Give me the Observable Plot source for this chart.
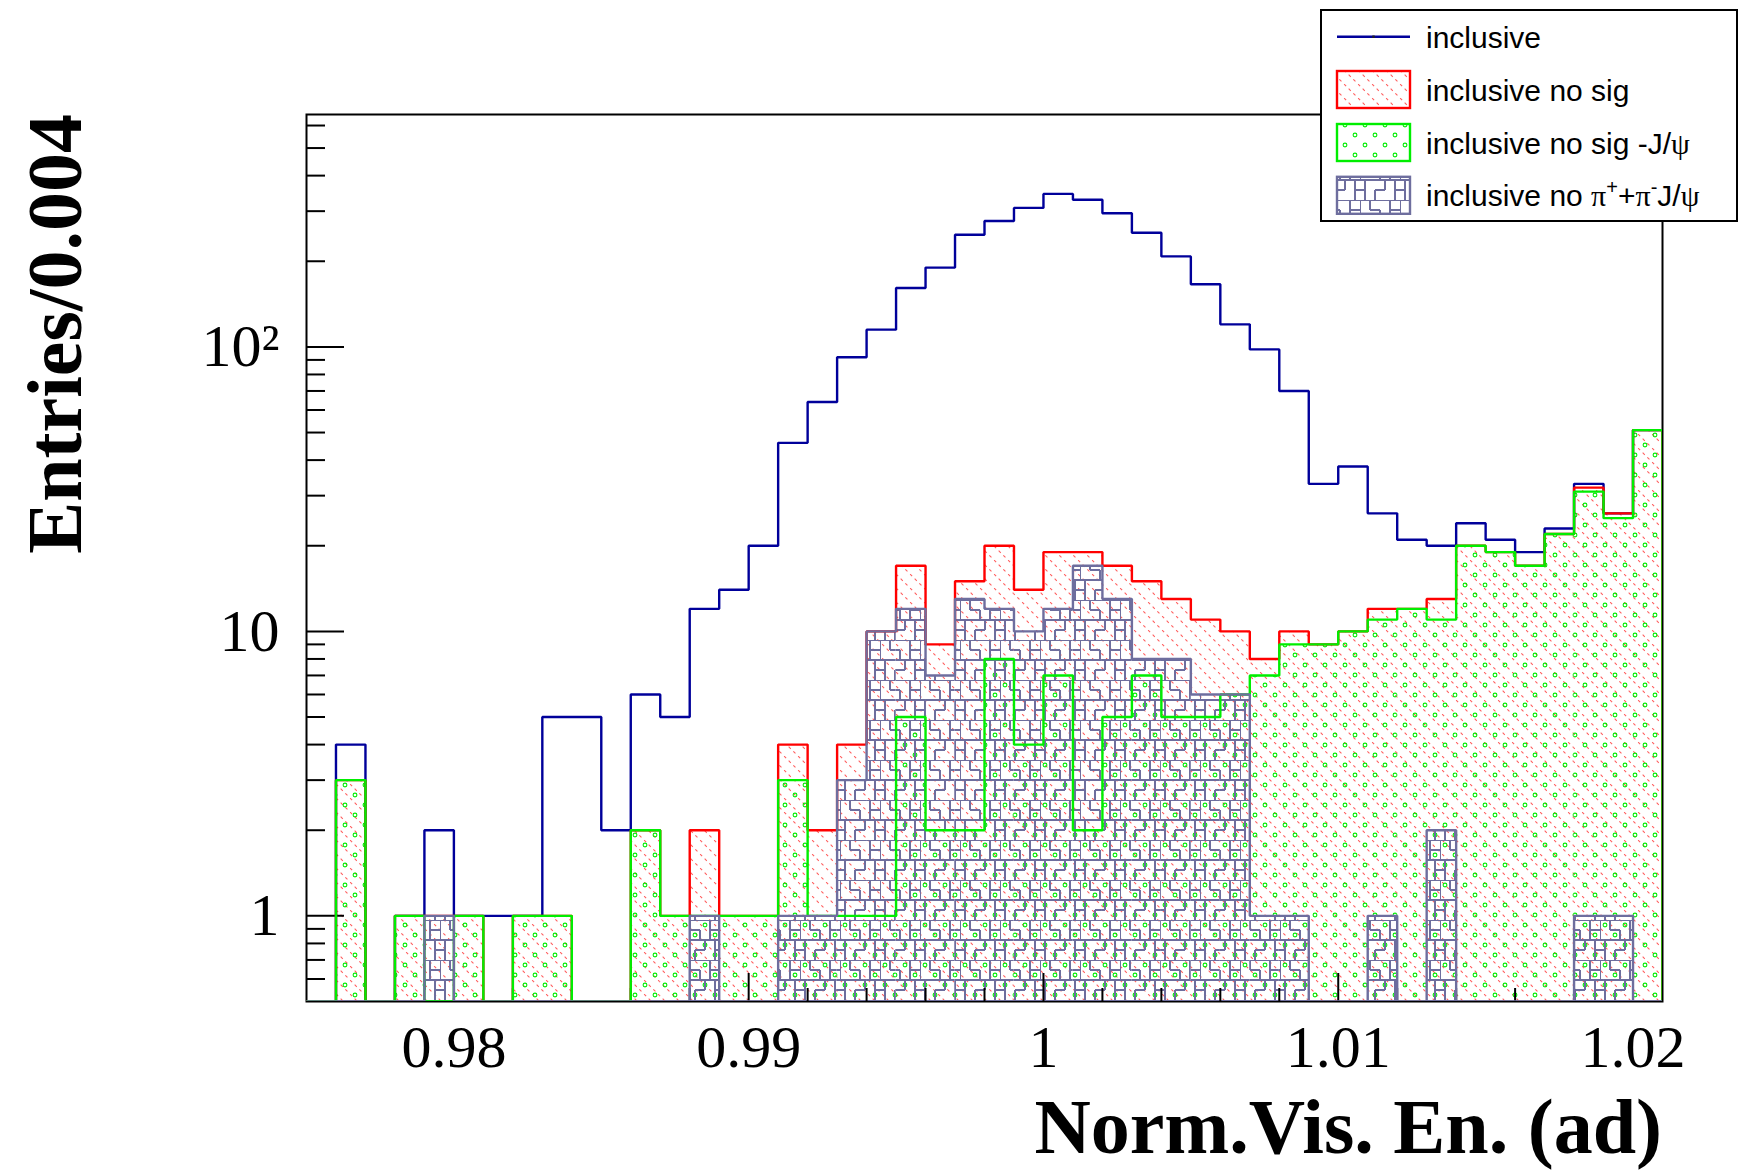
<!DOCTYPE html>
<html>
<head>
<meta charset="utf-8">
<script src="https://cdn.jsdelivr.net/npm/d3@7"></script>
<script src="https://cdn.jsdelivr.net/npm/@observablehq/plot@0.6"></script>
<style>
  html, body { margin: 0; padding: 0; background: #fff; }
  #chart svg { display: block; }
</style>
</head>
<body>
<div id="chart"></div>
<script>
// Histogram binning: 46 bins of width 0.001 starting at 0.975
const binStart = 0.975;
const binWidth = 0.001;

// Bin contents (entries per bin)
const inclusive   = [0, 4, 0, 1, 2, 1, 1, 1, 5, 5, 2, 6, 5, 12, 14, 20, 46, 64, 92, 115, 161, 190, 248, 277, 308, 345, 329, 295, 252, 208, 166, 120, 98, 70, 33, 38, 26, 21, 20, 24, 21, 19, 23, 33, 26, 51];
const noSig       = [0, 3, 0, 1, 1, 1, 0, 1, 1, 0, 0, 2, 1, 2, 1, 1, 4, 2, 4, 10, 17, 9, 15, 20, 14, 19, 19, 17, 15, 13, 11, 10, 8, 10, 9, 10, 12, 12, 13, 20, 19, 17, 22, 32, 26, 51];
const noSigNoJpsi = [0, 3, 0, 1, 0, 1, 0, 1, 1, 0, 0, 2, 1, 1, 1, 1, 3, 1, 1, 1, 5, 2, 2, 8, 4, 7, 2, 5, 7, 5, 5, 6, 7, 9, 9, 10, 11, 12, 11, 20, 19, 17, 22, 31, 25, 51];
const noPiPiJpsi  = [0, 0, 0, 0, 1, 0, 0, 0, 0, 0, 0, 0, 0, 1, 0, 0, 1, 1, 3, 10, 12, 7, 13, 12, 10, 12, 17, 13, 8, 8, 6, 6, 1, 1, 0, 0, 1, 0, 2, 0, 0, 0, 0, 1, 1, 0];

// Axes
const xDomain = [0.975, 1.021];
const yDomain = [0.5, 656];
const xTicks = [0.98, 0.99, 1, 1.01, 1.02];
const xTickLabels = ["0.98", "0.99", "1", "1.01", "1.02"];
const xMinorTicks = [0.976, 0.978, 0.982, 0.984, 0.986, 0.988, 0.992, 0.994, 0.996, 0.998, 1.002, 1.004, 1.006, 1.008, 1.012, 1.014, 1.016, 1.018, 1.02];
const yTicks = [1, 10, 100];
const yTickLabels = ["1", "10", "10²"];
const yMinorTicks = [0.6, 0.7, 0.8, 0.9, 2, 3, 4, 5, 6, 7, 8, 9, 20, 30, 40, 50, 60, 70, 80, 90, 200, 300, 400, 500, 600];

const xTitle = "Norm.Vis. En. (ad)";
const yTitle = "Entries/0.004";

const colors = {
  inclusive: "#00009a",
  noSig: "#ff0000",
  noSigNoJpsi: "#00ee00",
  noPiPiJpsi: "#6e6e9e"
};

// Layout
const W = 1739, H = 1172;
const M = {left: 306, right: 77, top: 114, bottom: 171};
const frameW = W - M.left - M.right;
const frameH = H - M.top - M.bottom;

// Bars with non-zero content, as rectangles from the bottom of the frame
function filledBins(counts) {
  return counts
    .map((v, i) => ({x1: binStart + i * binWidth, x2: binStart + (i + 1) * binWidth, lo: yDomain[0], v}))
    .filter(d => d.v > 0);
}
// Outline of a histogram; empty bins fall to the bottom of the frame
function stepOutline(counts) {
  const pts = [{x: binStart, y: yDomain[0]}];
  counts.forEach((v, i) => {
    const y = v > 0 ? v : yDomain[0];
    pts.push({x: binStart + i * binWidth, y});
    pts.push({x: binStart + (i + 1) * binWidth, y});
  });
  pts.push({x: binStart + counts.length * binWidth, y: yDomain[0]});
  return pts;
}
const xLabelOf = new Map(xTicks.map((t, i) => [t, xTickLabels[i]]));
const yLabelOf = new Map(yTicks.map((t, i) => [t, yTickLabels[i]]));

const outline = (counts, stroke) => Plot.line(stepOutline(counts), {
  x: "x", y: "y", stroke, strokeWidth: 2.4, strokeLinejoin: "miter", strokeLinecap: "butt", clip: true
});
const fillRect = (counts, fill) => Plot.rect(filledBins(counts), {
  x1: "x1", x2: "x2", y1: "lo", y2: "v", fill, clip: true
});

const chart = Plot.plot({
  width: W, height: H,
  marginLeft: M.left, marginRight: M.right, marginTop: M.top, marginBottom: M.bottom,
  style: {fontFamily: "'Liberation Serif', 'Times New Roman', serif", background: "white", color: "black"},
  x: {domain: xDomain},
  y: {type: "log", domain: yDomain},
  marks: [
    Plot.frame({stroke: "black", strokeWidth: 2}),
    fillRect(noSig, "url(#hatchRed)"),
    fillRect(noSigNoJpsi, "url(#dotsGreen)"),
    fillRect(noPiPiJpsi, "url(#mazePurple)"),
    // inward ticks
    Plot.tickY(yTicks, {y: d => d, stroke: "black", strokeWidth: 2, insetRight: frameW - 38}),
    Plot.tickY(yMinorTicks, {y: d => d, stroke: "black", strokeWidth: 2, insetRight: frameW - 19}),
    Plot.tickX(xTicks, {x: d => d, stroke: "black", strokeWidth: 2, insetTop: frameH - 28}),
    Plot.tickX(xMinorTicks, {x: d => d, stroke: "black", strokeWidth: 2, insetTop: frameH - 13}),
    outline(inclusive, colors.inclusive),
    outline(noSig, colors.noSig),
    outline(noSigNoJpsi, colors.noSigNoJpsi),
    outline(noPiPiJpsi, colors.noPiPiJpsi),
    Plot.axisX({ticks: xTicks, tickSize: 0, tickPadding: 23, fontSize: 60, tickFormat: d => xLabelOf.get(d), label: null}),
    Plot.axisY({ticks: yTicks, tickSize: 0, tickPadding: 27, fontSize: 60, tickFormat: d => yLabelOf.get(d), label: null})
  ]
});
document.getElementById("chart").appendChild(chart);

const svg = d3.select(chart);

// Fill patterns
const defs = svg.insert("defs", ":first-child");
const hatch = defs.append("pattern").attr("id", "hatchRed")
  .attr("patternUnits", "userSpaceOnUse").attr("width", 14).attr("height", 14);
hatch.append("path").attr("d", "M0,0L14,14M-7,7L0,14M7,-7L21,7")
  .attr("stroke", "#ff1a1a").attr("stroke-width", 1.1).attr("stroke-dasharray", "3 3.6")
  .attr("opacity", 0.7).attr("fill", "none");

const dots = defs.append("pattern").attr("id", "dotsGreen")
  .attr("patternUnits", "userSpaceOnUse").attr("width", 20).attr("height", 20);
[[5, 5], [15, 15]].forEach(([cx, cy]) => dots.append("circle")
  .attr("cx", cx).attr("cy", cy).attr("r", 1.9)
  .attr("fill", "none").attr("stroke", colors.noSigNoJpsi).attr("stroke-width", 1.1));

const maze = defs.append("pattern").attr("id", "mazePurple")
  .attr("patternUnits", "userSpaceOnUse").attr("width", 40).attr("height", 40);
maze.append("path")
  .attr("d", [
    "M0,0H40", "M0,20H40",
    "M0,0V20", "M10,0V10", "M10,10H20", "M20,10V20", "M30,0V20", "M30,10H40",
    "M5,20V40", "M15,30V40", "M15,30H25", "M25,20V30", "M35,20V40", "M35,30H40", "M0,30H5"
  ].join(""))
  .attr("stroke", colors.noPiPiJpsi).attr("stroke-width", 2).attr("fill", "none");

// Axis titles
svg.append("text")
  .attr("x", W - M.right).attr("y", 1153)
  .attr("text-anchor", "end")
  .attr("font-family", "'Liberation Serif', 'Times New Roman', serif")
  .attr("font-weight", "bold").attr("font-size", 78)
  .text(xTitle);
svg.append("text")
  .attr("transform", `translate(81,${M.top}) rotate(-90)`)
  .attr("text-anchor", "end")
  .attr("font-family", "'Liberation Serif', 'Times New Roman', serif")
  .attr("font-weight", "bold").attr("font-size", 78)
  .text(yTitle);

// Legend
const legend = svg.append("g")
  .attr("font-family", "'Liberation Sans', Arial, sans-serif")
  .attr("font-size", 30)
  .attr("text-anchor", "start");
legend.append("rect")
  .attr("x", 1321).attr("y", 10).attr("width", 416).attr("height", 211)
  .attr("fill", "white").attr("stroke", "black").attr("stroke-width", 2);

const rowY = [36.7, 89.5, 142.5, 195.3];
const symX = 1337, symW = 73, symH = 37, textX = 1426;

// row 0: line
legend.append("line").attr("x1", symX).attr("x2", symX + symW)
  .attr("y1", rowY[0]).attr("y2", rowY[0])
  .attr("stroke", colors.inclusive).attr("stroke-width", 2.4);
legend.append("rect").attr("x", symX + symW / 2 - 1.2).attr("y", rowY[0] - 1.2)
  .attr("width", 2.4).attr("height", 2.4).attr("fill", "#222");

// rows 1-3: filled boxes
[["url(#hatchRed)", colors.noSig], ["url(#dotsGreen)", colors.noSigNoJpsi], ["url(#mazePurple)", colors.noPiPiJpsi]]
  .forEach(([fill, stroke], k) => {
    legend.append("rect")
      .attr("x", symX).attr("y", rowY[k + 1] - symH / 2)
      .attr("width", symW).attr("height", symH)
      .attr("fill", "white");
    legend.append("rect")
      .attr("x", symX).attr("y", rowY[k + 1] - symH / 2)
      .attr("width", symW).attr("height", symH)
      .attr("fill", fill).attr("stroke", stroke).attr("stroke-width", 2.4);
  });

const greek = "'Liberation Serif', 'DejaVu Serif', serif";
const t0 = legend.append("text").attr("x", textX).attr("y", rowY[0] + 11);
t0.text("inclusive");
const t1 = legend.append("text").attr("x", textX).attr("y", rowY[1] + 11);
t1.text("inclusive no sig");
const t2 = legend.append("text").attr("x", textX).attr("y", rowY[2] + 11);
t2.append("tspan").text("inclusive no sig -J/");
t2.append("tspan").attr("font-family", greek).text("ψ");
const t3 = legend.append("text").attr("x", textX).attr("y", rowY[3] + 11);
t3.append("tspan").text("inclusive no ");
t3.append("tspan").attr("font-family", greek).text("π");
t3.append("tspan").attr("font-size", 20).attr("dy", -12).text("+");
t3.append("tspan").attr("dy", 12).text("+");
t3.append("tspan").attr("font-family", greek).text("π");
t3.append("tspan").attr("font-size", 20).attr("dy", -12).text("-");
t3.append("tspan").attr("dy", 12).text("J/");
t3.append("tspan").attr("font-family", greek).text("ψ");
</script>
</body>
</html>
